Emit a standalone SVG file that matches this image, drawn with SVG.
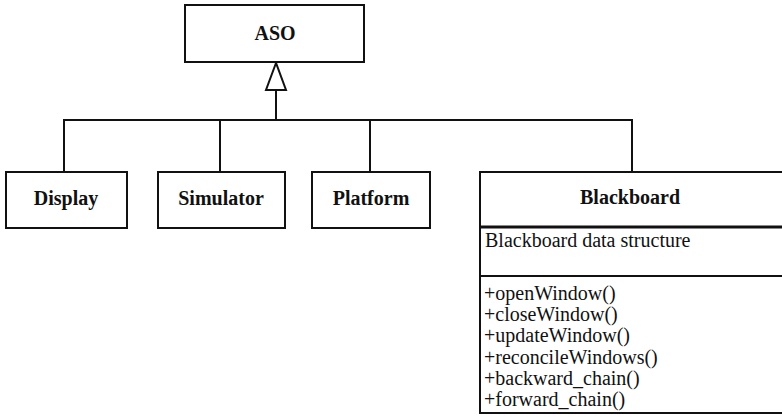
<svg xmlns="http://www.w3.org/2000/svg" width="782" height="417" viewBox="0 0 782 417">
<style>
.box{fill:#fff;stroke:#111;stroke-width:2}
.ln{fill:none;stroke:#111;stroke-width:2}
.b{font-family:"Liberation Serif","Times New Roman",serif;font-size:20px;font-weight:bold;fill:#111;text-anchor:middle}
.t{font-family:"Liberation Serif","Times New Roman",serif;font-size:20px;fill:#111}
</style>
<g id="connectors">
<path class="ln" d="M64,172 V120 H632 V172 M220,120 V172 M370,120 V172 M276,120 V89"/>
<polygon points="276,63 266,90 286,90" fill="#fff" stroke="#111" stroke-width="2"/>
</g>
<g id="aso">
<rect class="box" x="185" y="5" width="179" height="57"/>
<text class="b" x="275" y="40">ASO</text>
</g>
<g id="display">
<rect class="box" x="6" y="172" width="121" height="56"/>
<text class="b" x="66" y="205">Display</text>
</g>
<g id="simulator">
<rect class="box" x="158" y="172" width="127" height="56"/>
<text class="b" x="221" y="205">Simulator</text>
</g>
<g id="platform">
<rect class="box" x="312" y="172" width="118" height="56"/>
<text class="b" x="371" y="205">Platform</text>
</g>
<g id="blackboard">
<rect class="box" x="480" y="172" width="310" height="241"/>
<line x1="480" y1="227" x2="790" y2="227" stroke="#111" stroke-width="3"/>
<line x1="480" y1="276" x2="790" y2="276" stroke="#111" stroke-width="2"/>
<text class="b" x="630" y="204">Blackboard</text>
<text class="t" x="485" y="247">Blackboard data structure</text>
<text class="t" x="484" y="300">+openWindow()</text>
<text class="t" x="484" y="321">+closeWindow()</text>
<text class="t" x="484" y="342">+updateWindow()</text>
<text class="t" x="484" y="364">+reconcileWindows()</text>
<text class="t" x="484" y="385">+backward_chain()</text>
<text class="t" x="484" y="406">+forward_chain()</text>
</g>
</svg>
